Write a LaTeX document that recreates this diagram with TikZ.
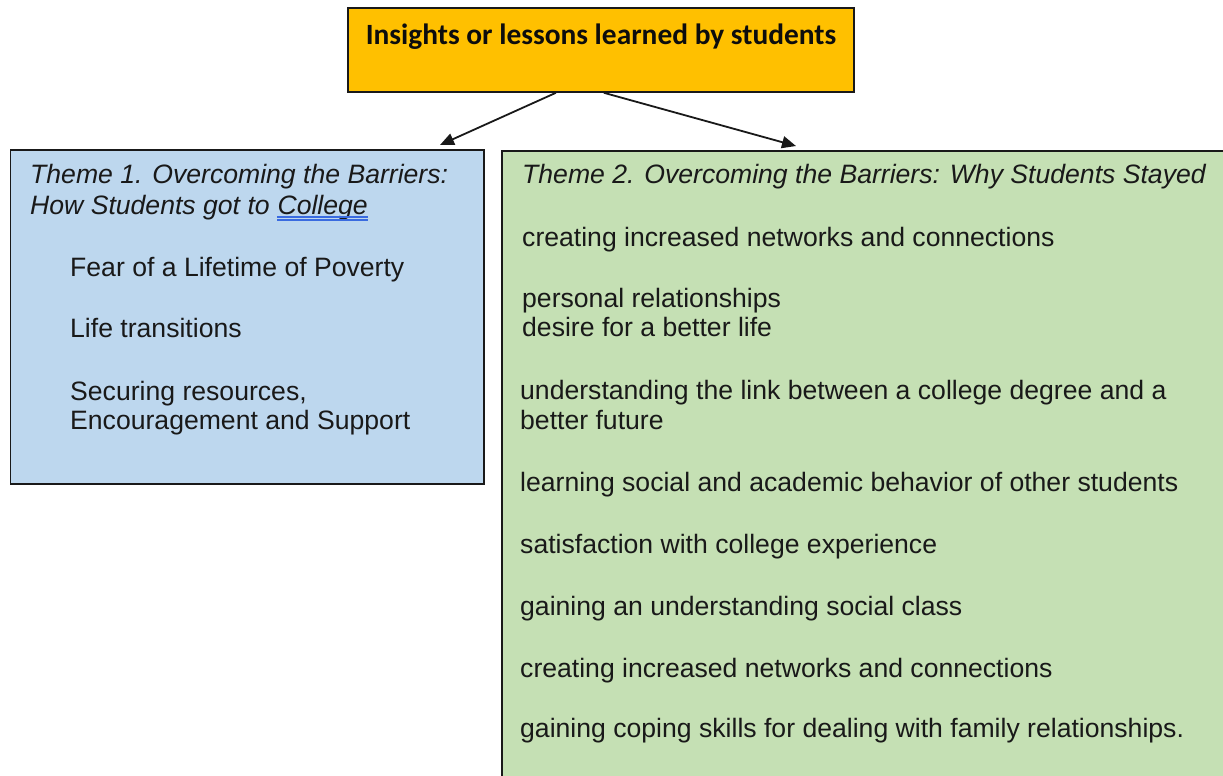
\documentclass[tikz,border=0pt]{standalone}
\usepackage{fontspec}
\setmainfont{Liberation Sans}
\newfontfamily\calibrifont{Carlito}
\usetikzlibrary{arrows.meta}
\definecolor{titleorange}{HTML}{FFC000}
\definecolor{themeblue}{HTML}{BDD7EE}
\definecolor{themegreen}{HTML}{C5E0B4}
\definecolor{spellblue}{HTML}{3A6BE0}
\begin{document}
\begin{tikzpicture}[x=1pt,y=-1pt,
  panel/.style={draw=black!90,line width=1.8pt,anchor=north west,inner sep=0pt},
  item/.style={anchor=base west,inner sep=0pt,text=black!90,font=\fontsize{26.6}{30}\selectfont},
  heading/.style={item,font=\fontsize{26.6}{30}\selectfont\itshape},
  link/.style={-{Triangle[length=14pt,width=12pt]},line width=1.8pt,draw=black!90},
  spell/.style={draw=spellblue,line width=1.1pt}]
\clip (0,0) rectangle (1223,776);
\fill[white] (0,0) rectangle (1223,776);

% title box
\node[panel,fill=titleorange,minimum width=506pt,minimum height=84pt] (top) at (347,7) {};
\node[anchor=base,inner sep=0pt,text=black!95,font=\calibrifont\bfseries\fontsize{29.4}{33}\selectfont] (title) at (601,45)
  {Insights or lessons learned by students};

% theme panels
\node[panel,fill=themeblue,minimum width=473.5pt,minimum height=334pt] (theme1) at (9.5,149) {};
\node[panel,fill=themegreen,minimum width=760pt,minimum height=660pt] (theme2) at (501,150) {};

% connectors
\coordinate (t1tip) at (440,145);
\coordinate (t2tip) at (796,146);
\draw[link] ([xshift=-45pt]top.south) -- (t1tip);
\draw[link] ([xshift=3pt]top.south) -- (t2tip);

% theme 1 contents
\node[heading] (h1a) at (30,183) {Theme 1. Overcoming the Barriers:};
\node[heading] (h1b) at (30,214) {How Students got to};
\node[heading] (college) at ([xshift=7.4pt]h1b.base east) {College};
\draw[spell] ([yshift=-3pt]college.base west) -- ([yshift=-3pt]college.base east);
\draw[spell] ([yshift=-6pt]college.base west) -- ([yshift=-6pt]college.base east);
\node[item] (a1) at (70,276) {Fear of a Lifetime of Poverty};
\node[item] (a2) at (70,337) {Life transitions};
\node[item] (a3) at (70,400) {Securing resources,};
\node[item] (a4) at (70,429) {Encouragement and Support};

% theme 2 contents
\node[heading] (h2) at (522,183) {Theme 2. Overcoming the Barriers: Why Students Stayed};
\node[item] (b1) at (522,246) {creating increased networks and connections};
\node[item] (b2) at (522,307) {personal relationships};
\node[item] (b3) at (522,336) {desire for a better life};
\node[item] (b4) at (520,399) {understanding the link between a college degree and a};
\node[item] (b5) at (520,429) {better future};
\node[item] (b6) at (520,491) {learning social and academic behavior of other students};
\node[item] (b7) at (520,553) {satisfaction with college experience};
\node[item] (b8) at (520,615) {gaining an understanding social class};
\node[item] (b9) at (520,677) {creating increased networks and connections};
\node[item] (b10) at (520,737) {gaining coping skills for dealing with family relationships.};
\end{tikzpicture}
\end{document}
